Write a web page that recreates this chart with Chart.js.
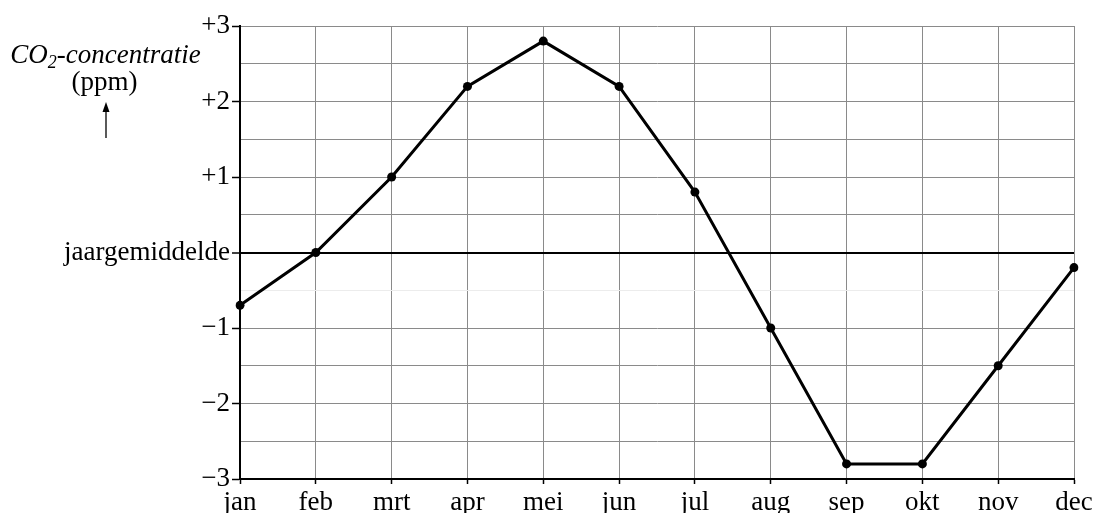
<!DOCTYPE html>
<html>
<head>
<meta charset="utf-8">
<script src="https://cdn.jsdelivr.net/npm/chart.js@4.4.0/dist/chart.umd.min.js"></script>
<style>
  html, body { margin: 0; padding: 0; background: #fff; }
  #wrap { width: 1094px; height: 513px; position: relative; }
</style>
</head>
<body>
<div id="wrap"><canvas id="c" width="1094" height="513"></canvas></div>
<script>
const months = ['jan', 'feb', 'mrt', 'apr', 'mei', 'jun', 'jul', 'aug', 'sep', 'okt', 'nov', 'dec'];
const co2Values = [-0.7, 0, 1.0, 2.2, 2.8, 2.2, 0.8, -1.0, -2.8, -2.8, -1.5, -0.2];
const yTickValues = [-3, -2, -1, 0, 1, 2, 3];
const yTickLabels = ['\u22123', '\u22122', '\u22121', 'jaargemiddelde', '+1', '+2', '+3'];
const titleMain = ['CO', '2', '-concentratie'];
const titleUnit = '(ppm)';

const FONT = "'Liberation Serif', 'Times New Roman', serif";

const titlePlugin = {
  id: 'titlePlugin',
  afterDraw(chart) {
    const ctx = chart.ctx;
    ctx.save();
    ctx.fillStyle = '#000';
    ctx.textBaseline = 'alphabetic';
    const big = 'italic 27px ' + FONT;
    const small = 'italic 18px ' + FONT;
    ctx.font = big;
    const w0 = ctx.measureText(titleMain[0]).width;
    const w2 = ctx.measureText(titleMain[2]).width;
    ctx.font = small;
    const w1 = ctx.measureText(titleMain[1]).width;
    const total = w0 + w1 + w2;
    let x = 105.5 - total / 2;
    const base = 63;
    ctx.textAlign = 'left';
    ctx.font = big;
    ctx.fillText(titleMain[0], x, base);
    x += w0;
    ctx.font = small;
    ctx.fillText(titleMain[1], x, base + 5);
    x += w1;
    ctx.font = big;
    ctx.fillText(titleMain[2], x, base);
    ctx.font = '27px ' + FONT;
    ctx.textAlign = 'center';
    ctx.fillText(titleUnit, 104.5, 90);
    // arrow
    ctx.strokeStyle = '#000';
    ctx.lineWidth = 1.3;
    ctx.beginPath();
    ctx.moveTo(106, 138);
    ctx.lineTo(106, 108);
    ctx.stroke();
    ctx.beginPath();
    ctx.moveTo(106, 102);
    ctx.lineTo(102.5, 112);
    ctx.lineTo(109.5, 112);
    ctx.closePath();
    ctx.fill();
    ctx.restore();
  }
};

new Chart(document.getElementById('c'), {
  type: 'line',
  data: {
    labels: months,
    datasets: [{
      data: co2Values,
      borderColor: '#000',
      backgroundColor: '#000',
      borderWidth: 3,
      pointRadius: 4.5,
      pointBackgroundColor: '#000',
      pointBorderWidth: 0,
      tension: 0,
      fill: false
    }]
  },
  options: {
    responsive: false,
    devicePixelRatio: 1,
    animation: false,
    layout: { padding: { top: 26, right: 20, left: 0, bottom: 0 } },
    plugins: { legend: { display: false }, tooltip: { enabled: false } },
    scales: {
      x: {
        type: 'category',
        offset: false,
        border: { display: true, color: '#000', width: 2 },
        grid: {
          color: '#8a8a8a',
          lineWidth: 1,
          tickColor: '#000',
          tickLength: 5,
          tickWidth: 1.5
        },
        ticks: {
          color: '#000',
          font: { family: FONT, size: 27 },
          padding: 3,
          maxRotation: 0,
          autoSkip: false
        },
        afterFit(s) { s.height = 34; s.paddingLeft = 0; s.paddingRight = 0; }
      },
      y: {
        type: 'linear',
        min: -3,
        max: 3,
        border: { display: true, color: '#000', width: 2 },
        grid: {
          color(ctx) {
            const v = ctx.tick ? ctx.tick.value : null;
            if (v === 0) return '#000';
            if (v === -0.5) return '#ececec';
            return '#8a8a8a';
          },
          lineWidth(ctx) {
            return ctx.tick && ctx.tick.value === 0 ? 2 : 1;
          },
          tickColor(ctx) {
            const v = ctx.tick ? ctx.tick.value : 0.5;
            return Number.isInteger(v) ? '#000' : 'rgba(0,0,0,0)';
          },
          tickLength: 8,
          tickWidth: 1.5
        },
        ticks: {
          stepSize: 0.5,
          color: '#000',
          font: { family: FONT, size: 27 },
          padding: 2,
          callback(value) {
            const i = yTickValues.indexOf(value);
            return i >= 0 ? yTickLabels[i] : '';
          }
        },
        afterFit(s) { s.width = 240; s.paddingTop = 0; s.paddingBottom = 0; }
      }
    }
  },
  plugins: [titlePlugin]
});
</script>
</body>
</html>
